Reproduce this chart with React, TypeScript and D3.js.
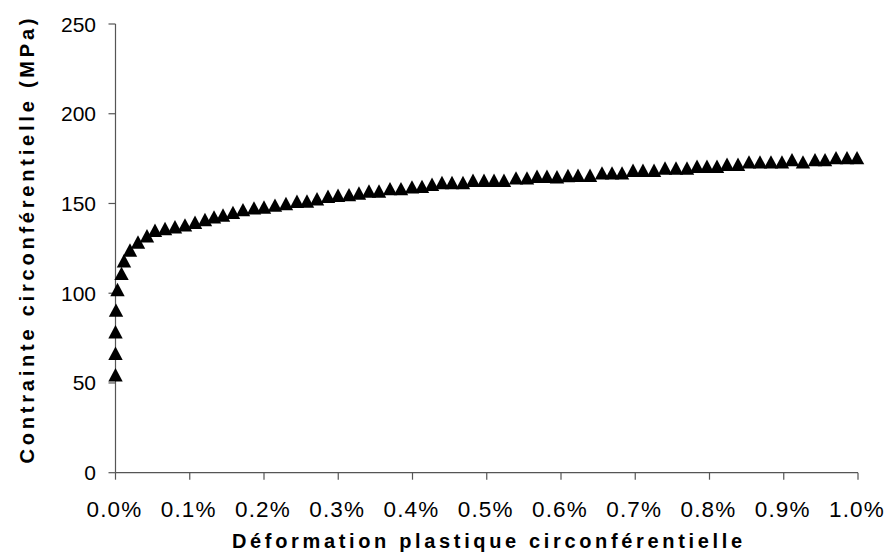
import React from "react";
import * as d3 from "d3";

// strain in % (déformation plastique circonférentielle)
const strain: number[] = [
  0, 0, 0, 0.0007, 0.0027, 0.0081, 0.0114, 0.0195, 0.0303, 0.0424,
  0.0532, 0.0667, 0.0801, 0.0936, 0.1071, 0.1205, 0.1327, 0.1448, 0.1582, 0.1717,
  0.1865, 0.2, 0.2148, 0.2296, 0.2444, 0.2579, 0.2714, 0.2862, 0.2997, 0.3145,
  0.3279, 0.3414, 0.3549, 0.3697, 0.3845, 0.3993, 0.4128, 0.4263, 0.4397, 0.4532,
  0.468, 0.4815, 0.4963, 0.5098, 0.5232, 0.5394, 0.5542, 0.5677, 0.5811, 0.5946,
  0.6094, 0.6229, 0.6391, 0.6552, 0.6687, 0.6822, 0.697, 0.7104, 0.7253, 0.7401,
  0.7549, 0.7697, 0.7832, 0.7966, 0.8101, 0.8236, 0.8384, 0.8532, 0.868, 0.8828,
  0.8976, 0.9111, 0.9259, 0.9421, 0.9556, 0.9704, 0.9852, 0.9987,
];

// stress in MPa (contrainte circonférentielle)
const stress: number[] = [
  54.5, 66.5, 78.5, 90.5, 102, 111, 118, 124, 128.5, 132,
  135, 136, 137, 138, 139.5, 141, 142.5, 143.5, 145, 146.5,
  147.5, 148, 149, 149.9, 151.2, 151.3, 152.6, 154.0, 154.5, 154.9,
  155.8, 156.9, 156.9, 158.2, 158.2, 159.2, 159.5, 160.7, 161.6, 161.6,
  161.6, 162.9, 162.9, 162.9, 162.9, 164.2, 164.2, 165.1, 165.1, 164.8,
  165.5, 165.7, 165.7, 167.0, 167.0, 167.0, 168.5, 168.5, 168.5, 169.7,
  169.7, 169.7, 170.7, 170.7, 170.7, 171.8, 171.8, 173.1, 173.1, 173.1,
  173.1, 174.4, 173.1, 174.4, 174.4, 175.5, 175.5, 175.5,
];

const xTicks: number[] = [0, 0.1, 0.2, 0.3, 0.4, 0.5, 0.6, 0.7, 0.8, 0.9, 1.0];
const yTicks: number[] = [0, 50, 100, 150, 200, 250];

const xTitle = "Déformation plastique circonférentielle";
const yTitle = "Contrainte circonférentielle (MPa)";

const W = 890;
const H = 553;
const left = 115.5;
const right = 858;
const top = 24;
const bottom = 472.7;

export default function App() {
  const x = d3.scaleLinear().domain([0, 1]).range([left, right]);
  const y = d3.scaleLinear().domain([0, 250]).range([bottom, top]);
  const axisColor = "#555";
  const font = "'Liberation Sans', Arial, sans-serif";
  const tri = "M0,-6.8L7.2,6.6L-7.2,6.6Z";

  return (
    <svg
      width={W}
      height={H}
      style={{ position: "absolute", left: 0, top: 0, background: "#fff" }}
      fontFamily={font}
    >
      <rect x={0} y={0} width={W} height={H} fill="#fff" />
      {/* axes */}
      <line x1={left} y1={top} x2={left} y2={bottom} stroke={axisColor} strokeWidth={1.2} />
      <line x1={left} y1={bottom} x2={right} y2={bottom} stroke={axisColor} strokeWidth={1.2} />
      {yTicks.map((t) => (
        <g key={"y" + t}>
          <line x1={left - 7} x2={left} y1={y(t)} y2={y(t)} stroke={axisColor} strokeWidth={1.2} />
          <text x={96} y={y(t) + 7.5} textAnchor="end" fontSize={21} fill="#000">
            {t}
          </text>
        </g>
      ))}
      {xTicks.map((t) => (
        <g key={"x" + t}>
          <line x1={x(t)} x2={x(t)} y1={bottom} y2={bottom + 7} stroke={axisColor} strokeWidth={1.2} />
          <text
            x={x(t) - 1}
            y={517}
            textAnchor="middle"
            fontSize={22.5}
            letterSpacing={1.2}
            fill="#000"
          >
            {d3.format(".1f")(t) + "%"}
          </text>
        </g>
      ))}
      {/* markers */}
      {strain.map((s, i) => (
        <path key={i} d={tri} transform={`translate(${x(s)},${y(stress[i])})`} fill="#000" />
      ))}
      {/* titles */}
      <text
        x={487}
        y={548}
        textAnchor="middle"
        fontSize={20}
        fontWeight="bold"
        textLength={510}
        lengthAdjust="spacing"
        fill="#000"
      >
        {xTitle}
      </text>
      <text
        transform={`translate(34,241) rotate(-90)`}
        textAnchor="middle"
        fontSize={20}
        fontWeight="bold"
        textLength={445}
        lengthAdjust="spacing"
        fill="#000"
      >
        {yTitle}
      </text>
    </svg>
  );
}
